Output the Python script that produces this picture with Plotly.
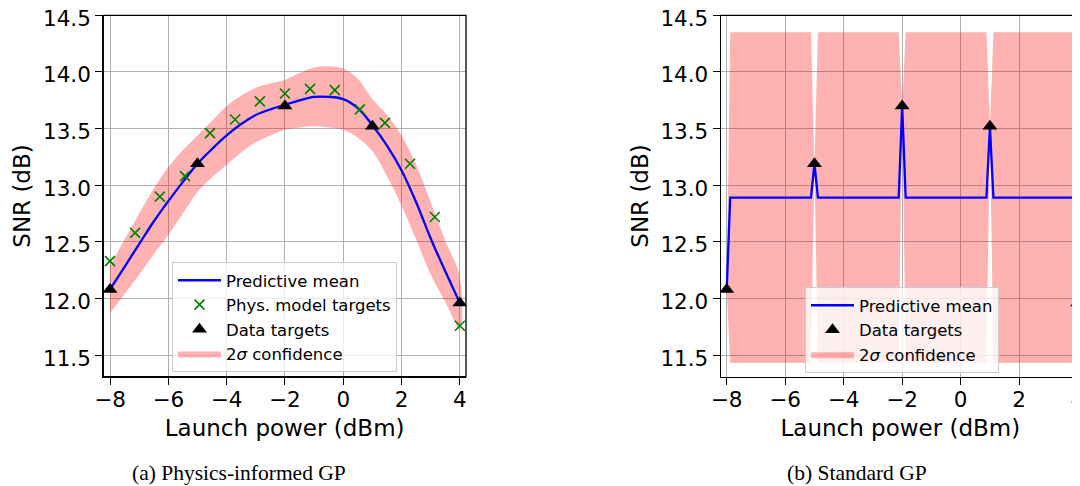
import plotly.graph_objects as go

# ---------------- (a) Physics-informed GP ----------------
grid_x = [-8.0, -7.5, -7.0, -6.5, -6.0, -5.5, -5.0, -4.5, -4.0, -3.5, -3.0, -2.5,
          -2.0, -1.5, -1.0, -0.5, 0.0, 0.5, 1.0, 1.5, 2.0, 2.5, 3.0, 3.5, 4.0]
pi_mean = [12.08, 12.28, 12.48, 12.68, 12.86, 13.03, 13.19, 13.32, 13.44, 13.54, 13.62, 13.67,
           13.71, 13.75, 13.78, 13.78, 13.76, 13.68, 13.53, 13.35, 13.13, 12.85, 12.53, 12.24, 11.96]
pi_upper = [12.29, 12.52, 12.75, 12.97, 13.16, 13.31, 13.44, 13.57, 13.70, 13.79, 13.86, 13.90,
            13.93, 13.99, 14.04, 14.05, 14.03, 13.94, 13.76, 13.62, 13.44, 13.18, 12.85, 12.51, 12.19]
pi_lower = [11.87, 12.04, 12.21, 12.39, 12.56, 12.75, 12.94, 13.07, 13.18, 13.29, 13.38, 13.44,
            13.49, 13.51, 13.52, 13.51, 13.49, 13.42, 13.30, 13.08, 12.82, 12.52, 12.21, 11.97, 11.73]

phys_x = [-8.0, -7.14, -6.29, -5.43, -4.57, -3.71, -2.86, -2.0, -1.14, -0.29, 0.57, 1.43, 2.29, 3.14, 4.0]
phys_y = [12.33, 12.58, 12.90, 13.08, 13.46, 13.58, 13.74, 13.81, 13.85, 13.84, 13.67, 13.55, 13.19, 12.72, 11.76]

data_x = [-8.0, -5.0, -2.0, 1.0, 4.0]
data_y = [12.08, 13.19, 13.70, 13.52, 11.96]

# ---------------- (b) Standard GP ----------------
std_x = [-8.0, -7.88, -5.12, -5.0, -4.88, -2.12, -2.0, -1.88, 0.88, 1.0, 1.12, 3.88, 4.0]
std_mean = [12.08, 12.89, 12.89, 13.19, 12.89, 12.89, 13.70, 12.89, 12.89, 13.52, 12.89, 12.89, 11.96]
std_upper = [12.08, 14.35, 14.35, 13.19, 14.35, 14.35, 13.70, 14.35, 14.35, 13.52, 14.35, 14.35, 11.96]
std_lower = [12.08, 11.43, 11.43, 13.19, 11.43, 11.43, 13.70, 11.43, 11.43, 13.52, 11.43, 11.43, 11.96]

x_ticks = [-8, -6, -4, -2, 0, 2, 4]
y_ticks = [11.5, 12.0, 12.5, 13.0, 13.5, 14.0, 14.5]
x_title = "Launch power (dBm)"
y_title = "SNR (dB)"
captions = ["(a) Physics-informed GP", "(b) Standard GP"]

BAND = "rgba(255,0,0,0.3)"
BLUE = "#0000ff"
GREEN = "#008000"
FONT = "DejaVu Sans"

# page body has an 8px margin: the figure is sized to fill the rest of the window
OFF = 8
W, H = 1080 - OFF, 486 - OFF


def px(x):
    return (x - OFF) / W


def py(y):
    return 1 - (y - OFF) / H


fig = go.Figure()

# left panel
fig.add_trace(go.Scatter(x=grid_x + grid_x[::-1], y=pi_upper + pi_lower[::-1], fill="toself",
                         fillcolor=BAND, line=dict(width=0, shape="spline"), mode="lines",
                         name="2<i>σ</i> confidence", legendrank=4, legend="legend",
                         xaxis="x", yaxis="y", hoverinfo="skip"))
fig.add_trace(go.Scatter(x=grid_x, y=pi_mean, mode="lines", line=dict(color=BLUE, width=2.3, shape="spline"),
                         name="Predictive mean", legendrank=1, legend="legend", xaxis="x", yaxis="y"))
fig.add_trace(go.Scatter(x=phys_x, y=phys_y, mode="markers",
                         marker=dict(symbol="x-thin", size=10, line=dict(color=GREEN, width=1.6), color=GREEN),
                         name="Phys. model targets", legendrank=2, legend="legend", xaxis="x", yaxis="y"))
fig.add_trace(go.Scatter(x=data_x, y=data_y, mode="markers",
                         marker=dict(symbol="triangle-up", size=13, color="black"),
                         name="Data targets", legendrank=3, legend="legend", xaxis="x", yaxis="y"))

# right panel
fig.add_trace(go.Scatter(x=std_x + std_x[::-1], y=std_upper + std_lower[::-1], fill="toself",
                         fillcolor=BAND, line=dict(width=0), mode="lines",
                         name="2<i>σ</i> confidence", legendrank=4, legend="legend2",
                         xaxis="x2", yaxis="y2", hoverinfo="skip"))
fig.add_trace(go.Scatter(x=std_x, y=std_mean, mode="lines", line=dict(color=BLUE, width=2.3),
                         name="Predictive mean", legendrank=1, legend="legend2", xaxis="x2", yaxis="y2"))
fig.add_trace(go.Scatter(x=data_x, y=data_y, mode="markers",
                         marker=dict(symbol="triangle-up", size=13, color="black"),
                         name="Data targets", legendrank=3, legend="legend2", xaxis="x2", yaxis="y2"))


def xax(domain, rng, anchor):
    return dict(domain=domain, range=rng, anchor=anchor, tickvals=x_ticks, showgrid=True, gridcolor="#b0b0b0",
                gridwidth=1, showline=True, linecolor="#000", linewidth=1.3, mirror=False,
                ticks="outside", ticklen=7, tickwidth=1.3, tickcolor="#000", zeroline=False,
                automargin=False, ticklabeloverflow="allow", ticklabelstandoff=-4,
                tickfont=dict(size=21.5, color="#000", family=FONT),
                title=dict(text=x_title, font=dict(size=23, color="#000", family=FONT), standoff=9))


def yax(domain, anchor):
    return dict(domain=domain, range=[11.31, 14.5], tickvals=y_ticks, tickformat=".1f", showgrid=True,
                gridcolor="#b0b0b0", gridwidth=1, showline=True, linecolor="#000", linewidth=1.3,
                mirror=False, ticks="outside", ticklen=7, tickwidth=1.3, tickcolor="#000", zeroline=False,
                anchor=anchor, automargin=False, ticklabeloverflow="allow", ticklabelshift=3,
                tickfont=dict(size=21.5, color="#000", family=FONT),
                title=dict(text=y_title, font=dict(size=23, color="#000", family=FONT), standoff=5))


ydom = [py(376.7), py(15.3)]
legend_style = dict(bgcolor="rgba(255,255,255,0.8)", bordercolor="#cccccc", borderwidth=1,
                    font=dict(size=16.5, color="#000", family=FONT), xanchor="left", yanchor="top",
                    tracegroupgap=0, itemwidth=43)

fig.update_layout(
    width=W, height=H, margin=dict(l=0, r=0, t=0, b=0, autoexpand=False),
    paper_bgcolor="white", plot_bgcolor="white",
    font=dict(family=FONT, color="#000"),
    xaxis=xax([px(103.3), px(466)], [-8.23, 4.21], "y"),
    yaxis=yax(ydom, "x"),
    xaxis2=xax([px(720.7), 1.0], [-8.205, 4.08], "y2"),
    yaxis2=yax(ydom, "x2"),
    legend=dict(legend_style, x=px(172), y=py(262)),
    legend2=dict(legend_style, x=px(805), y=py(287)),
    showlegend=True,
)

# axes frames (top / right spines)
fig.add_shape(type="rect", xref="x domain", yref="y domain", x0=0, x1=1, y0=0, y1=1,
              line=dict(color="#000", width=1.3), fillcolor="rgba(0,0,0,0)", layer="above")
fig.add_shape(type="line", xref="x2 domain", yref="y2 domain", x0=0, x1=1, y0=1, y1=1,
              line=dict(color="#000", width=1.3), layer="above")

fig.add_annotation(text=captions[0], xref="paper", yref="paper", x=px(238.5), y=py(473),
                   showarrow=False, xanchor="center", yanchor="middle",
                   font=dict(family="Liberation Serif", size=21.5, color="#000"))
fig.add_annotation(text=captions[1], xref="paper", yref="paper", x=px(856.7), y=py(473),
                   showarrow=False, xanchor="center", yanchor="middle",
                   font=dict(family="Liberation Serif", size=21.5, color="#000"))

fig.write_html("out.html")
